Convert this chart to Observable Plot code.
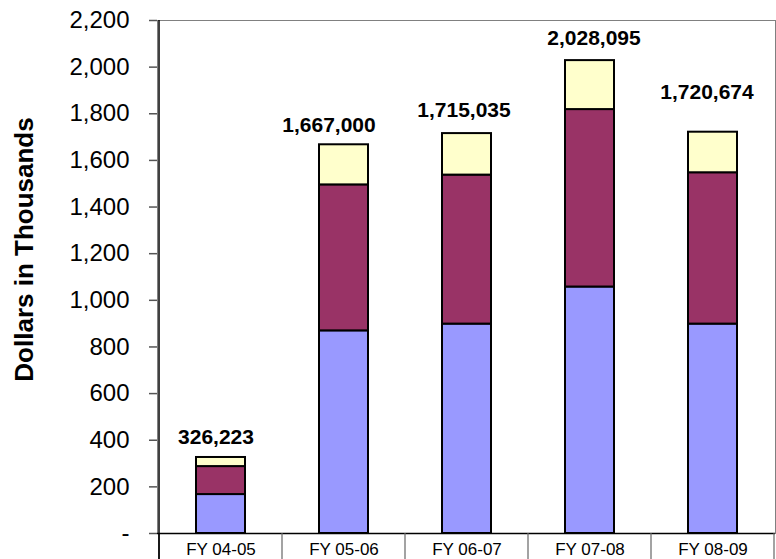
<!DOCTYPE html>
<html><head><meta charset="utf-8">
<script src="https://cdn.jsdelivr.net/npm/d3@7"></script>
<script src="https://cdn.jsdelivr.net/npm/@observablehq/plot@0.6"></script>
<style>
html,body{margin:0;padding:0;background:#fff}
svg{display:block}
</style>
</head><body><div id="chart"></div>
<script>
const years = ["FY 04-05","FY 05-06","FY 06-07","FY 07-08","FY 08-09"];
const segments = ["Part 1","Part 2","Part 3"];
const part1 = [167, 869, 898, 1057, 898];
const part2 = [120, 626, 639, 761, 649];
const part3 = [39, 172, 178, 210, 174];
const totals = [326223, 1667000, 1715035, 2028095, 1720674];
const yTicks = [0,200,400,600,800,1000,1200,1400,1600,1800,2000,2200];
const colors = ["#9999FF","#993366","#FFFFCC"];
const yTitle = "Dollars in Thousands";

const rows = [];
years.forEach((yr,i) => {
  [part1, part2, part3].forEach((arr,j) => rows.push({year: yr, seg: segments[j], value: arr[i]}));
});
const totalRows = years.map((yr,i) => ({year: yr, total: totals[i] / 1000, label: d3.format(",")(totals[i])}));

const font = "'Liberation Sans', Arial, sans-serif";
// label placement nudges (style only), as in the original chart
const labelNudge = {"FY 04-05": [-5, -20], "FY 05-06": [-15, -20], "FY 06-07": [-3, -23], "FY 07-08": [4, -22], "FY 08-09": [-6, -40]};

const labelMarks = years.map(yr => Plot.text(totalRows.filter(d => d.year === yr), {
  x: "year", y: "total", text: "label",
  dx: labelNudge[yr][0], dy: labelNudge[yr][1],
  fontSize: 21, fontWeight: "bold", fill: "#000"}));

const plot = Plot.plot({
  width: 776, height: 559,
  marginLeft: 157, marginRight: 1, marginTop: 20, marginBottom: 26,
  style: {fontFamily: font, background: "#fff", color: "#000"},
  x: {type: "band", domain: years, padding: 0, axis: null},
  y: {domain: [0, 2200], axis: null},
  color: {domain: segments, range: colors},
  marks: [
    Plot.frame({stroke: "#808080", strokeWidth: 1}),
    Plot.barY(rows, {x: "year", y: "value", fill: "seg", order: segments,
      stroke: "#000", strokeWidth: 2, insetLeft: 37, insetRight: 37}),
    Plot.axisY({ticks: yTicks, tickSize: 8, tickPadding: 20, fontSize: 24,
      stroke: "#555", strokeWidth: 1.5, fill: "#000",
      tickFormat: d => d === 0 ? "-" : d3.format(",")(d), label: null}),
    Plot.axisX({tickSize: 0, tickPadding: 9, fontSize: 17, fill: "#000", label: null}),
    Plot.ruleY([0], {stroke: "#000", strokeWidth: 1.5}),
    ...labelMarks
  ]
});

const xs = plot.scale("x");
const ys = plot.scale("y");
const svg = d3.select(plot);
const y0 = ys.apply(0);
const bounds = years.map(d => xs.apply(d)).concat([xs.apply(years[years.length-1]) + xs.bandwidth]);
// category box dividers below the axis
svg.append("g").selectAll("line").data(bounds).join("line")
  .attr("x1", d => d).attr("x2", d => d)
  .attr("y1", y0).attr("y2", 559)
  .attr("stroke", (d,i) => i === 0 ? "#000" : "#666").attr("stroke-width", 1.2);
// left axis line
svg.append("line").attr("x1", bounds[0]).attr("x2", bounds[0])
  .attr("y1", ys.apply(2200)).attr("y2", 559)
  .attr("stroke", "#000").attr("stroke-width", 1.5);
// y axis title
svg.append("text")
  .attr("transform", `translate(33,${(ys.apply(2200) + y0) / 2 - 27}) rotate(-90)`)
  .attr("text-anchor", "middle")
  .attr("font-family", font).attr("font-size", 26).attr("font-weight", "bold")
  .attr("fill", "#000")
  .text(yTitle);

document.getElementById("chart").append(plot);
</script>
</body></html>
